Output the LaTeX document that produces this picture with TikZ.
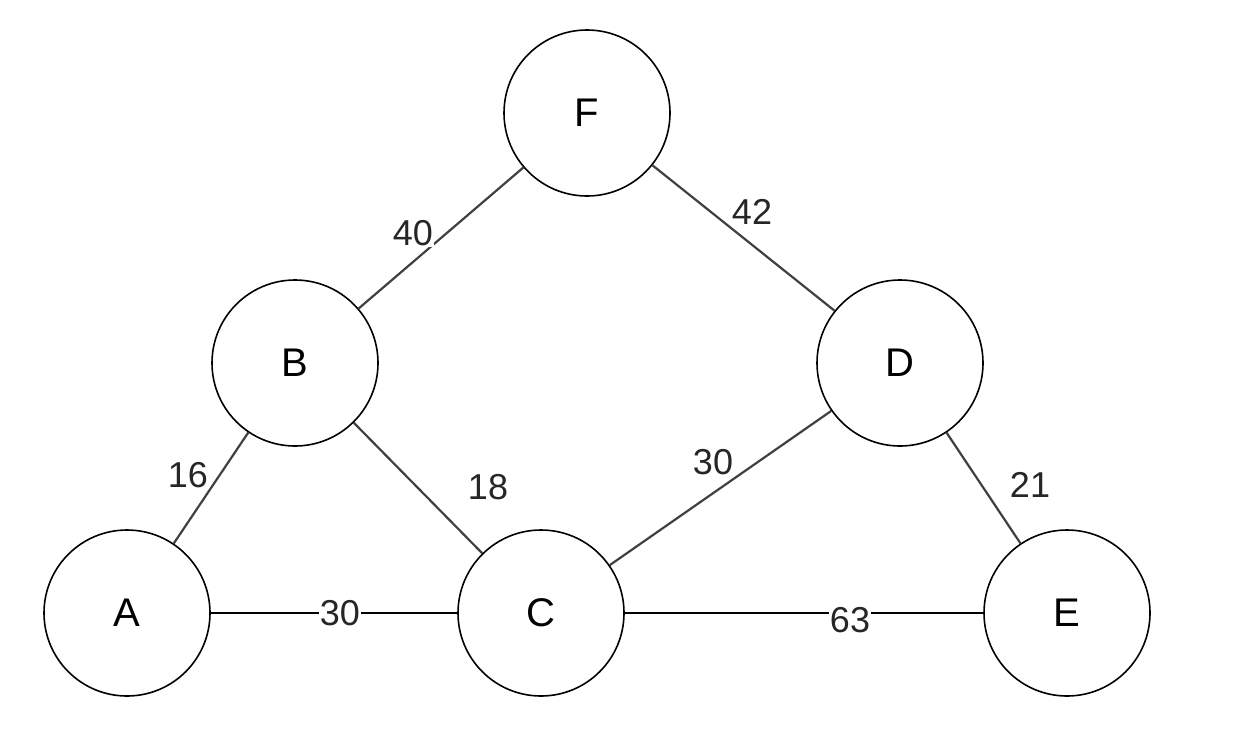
\documentclass[tikz,border=0pt]{standalone}
\usepackage{fontspec}
\setmainfont{Liberation Sans}
\begin{document}
\begin{tikzpicture}[x=1pt,y=-1pt,
  vtx/.style={circle,draw=black,line width=1.6pt,minimum size=166pt,inner sep=0pt,font=\fontsize{40}{44}\selectfont},
  edge/.style={draw=black!75,line width=2.2pt},
  wlab/.style={fill=white,inner sep=1pt,font=\fontsize{36}{40}\selectfont,text=black!85}]
\useasboundingbox (0,0) rectangle (1258,750);
\node[vtx] (F) at (587,113) {F};
\node[vtx] (B) at (295,363) {B};
\node[vtx] (D) at (900,363) {D};
\node[vtx] (A) at (127,613) {A};
\node[vtx] (C) at (541,613) {C};
\node[vtx] (E) at (1067,613) {E};
\draw[edge] (F) -- (B);
\draw[edge] (F) -- (D);
\draw[edge] (B) -- (A);
\draw[edge] (B) -- (C);
\draw[edge] (D) -- (C);
\draw[edge] (D) -- (E);
\draw[edge,draw=black] (A) -- (C);
\draw[edge,draw=black] (C) -- (E);
\node[wlab] (l1) at (413,233) {40};
\node[wlab] (l2) at (752,212) {42};
\node[wlab] (l3) at (188,475) {16};
\node[wlab] (l4) at (488,487) {18};
\node[wlab] (l5) at (713,462) {30};
\node[wlab] (l6) at (1030,485) {21};
\node[wlab] (l7) at (340,613) {30};
\node[wlab] (l8) at (850,620) {63};
\end{tikzpicture}
\end{document}
